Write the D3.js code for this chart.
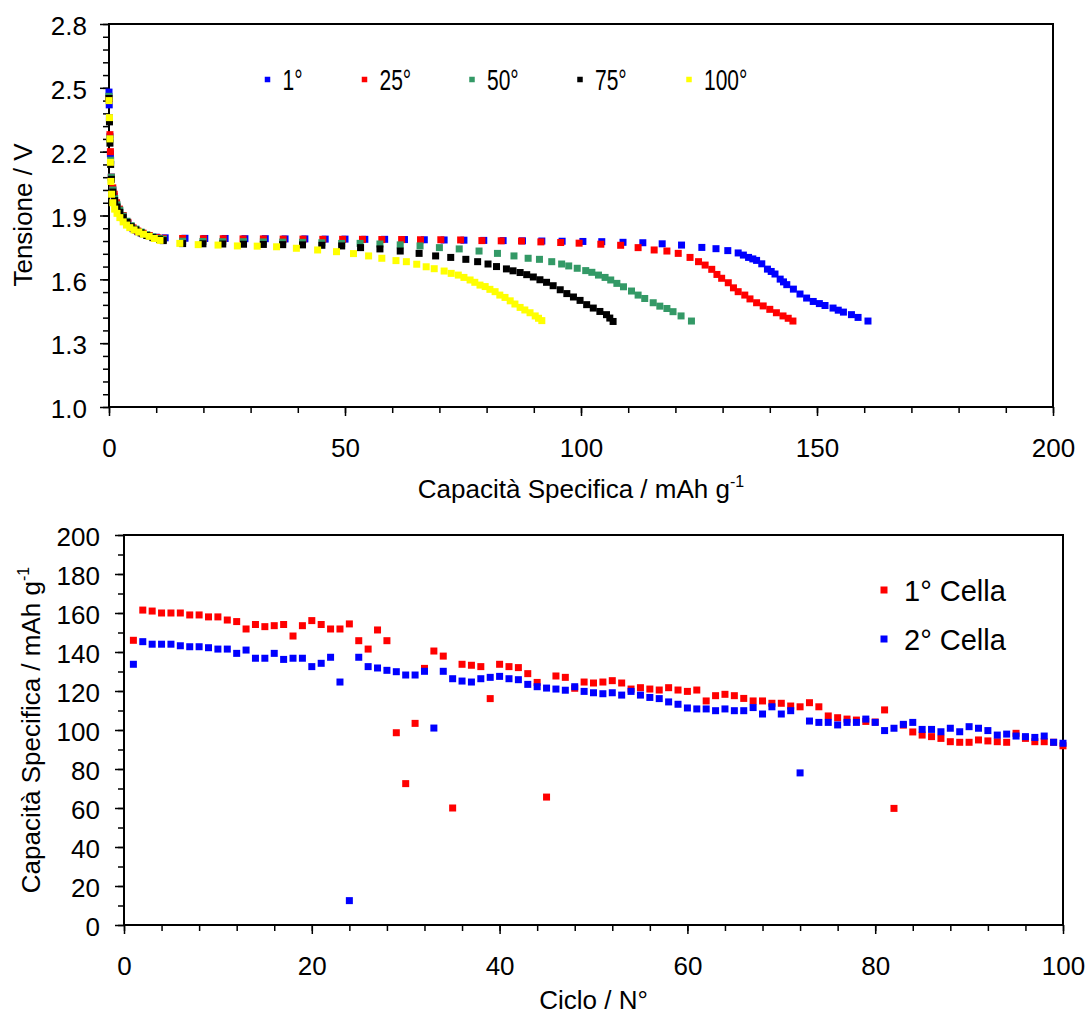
<!DOCTYPE html>
<html><head><meta charset="utf-8">
<script src="https://cdn.jsdelivr.net/npm/d3@7"></script>
<style>
html,body{margin:0;padding:0;background:#fff;}
svg{display:block;font-family:"Liberation Sans",Arial,sans-serif;}
</style></head>
<body>
<svg id="c" width="1089" height="1023"></svg>
<script>
// ---------- DATA: top chart (discharge curves) ----------
const seriesLabels = ["1°", "25°", "50°", "75°", "100°"];
const seriesColors = ["#0000FF", "#FF0000", "#339966", "#000000", "#FFFF00"];

const cap1 = [0,0.05,0.1,0.2,0.3,0.5,0.8,1.1,1.6,2.2,3.0,4.0,5.1,6.1,7.2,8.5,10.0,11.9,
  16.1,20.3,24.6,28.8,33.1,37.3,41.5,45.8,50.0,54.2,58.4,62.6,66.8,71.0,75.2,79.4,83.5,87.6,91.7,96.0,100.4,104.4,108.9,113.1,117.2,
  121.3,125.6,128.6,131.1,133.3,134.4,135.5,136.4,137.2,138.3,139.5,140.3,141.1,142.2,142.9,143.6,145.0,146.4,147.8,149.2,150.5,151.7,153.4,154.5,155.6,157.3,158.7,160.8];
const volt1 = [2.48,2.42,2.36,2.27,2.19,2.08,2.02,1.99,1.955,1.925,1.895,1.863,1.838,1.824,1.814,1.805,1.798,1.795,
  1.793,1.792,1.792,1.791,1.791,1.790,1.790,1.789,1.789,1.788,1.788,1.787,1.786,1.785,1.784,1.783,1.782,1.781,1.780,1.779,1.778,1.777,1.774,1.772,1.767,
  1.761,1.750,1.744,1.735,1.724,1.714,1.703,1.696,1.689,1.673,1.648,1.637,1.625,1.601,1.588,1.575,1.554,1.531,1.512,1.496,1.486,1.477,1.465,1.455,1.446,1.434,1.421,1.404];

const cap25 = [0,0.1,0.2,0.3,0.5,0.8,1.1,1.6,2.2,3.0,4.0,5.1,6.1,7.2,8.5,10.2,11.5,
  15.6,20.0,24.2,28.4,32.7,36.9,41.1,45.3,49.5,53.7,57.8,62.0,66.0,70.3,74.5,79.0,83.1,87.4,91.5,95.7,99.6,104.2,108.4,112.1,115.5,118.2,120.6,
  123.1,124.9,126.3,127.7,128.8,129.8,131.2,132.3,133.3,134.7,135.8,137.2,138.6,140.0,141.4,142.8,143.9,144.9];
const volt25 = [2.45,2.35,2.28,2.20,2.08,2.03,2.00,1.96,1.93,1.90,1.868,1.842,1.827,1.817,1.806,1.796,1.793,
  1.792,1.791,1.791,1.790,1.790,1.789,1.789,1.788,1.788,1.788,1.787,1.787,1.786,1.786,1.785,1.782,1.781,1.780,1.776,1.773,1.770,1.765,1.760,1.749,1.738,1.733,1.722,
  1.703,1.683,1.667,1.647,1.623,1.605,1.584,1.560,1.542,1.526,1.508,1.490,1.475,1.459,1.443,1.428,1.417,1.404];

const cap50 = [0,0.1,0.2,0.35,0.5,0.8,1.2,1.7,2.3,3.0,3.8,4.7,5.7,6.8,8.0,9.3,10.7,11.5,
  15.6,19.9,24.1,28.5,32.7,36.8,41.0,45.1,49.3,53.2,57.4,61.7,65.9,70.0,74.2,78.4,82.3,85.8,88.8,91.2,93.8,95.9,97.4,99.2,101.0,102.3,103.7,105.1,106.3,107.6,109.0,110.7,112.1,113.5,115.3,116.7,118.2,119.5,121.2,123.4];
const volt50 = [2.46,2.35,2.26,2.16,2.08,2.02,1.98,1.95,1.925,1.897,1.873,1.852,1.836,1.822,1.810,1.800,1.792,1.788,
  1.779,1.778,1.777,1.777,1.776,1.775,1.774,1.772,1.769,1.769,1.766,1.762,1.757,1.749,1.743,1.733,1.722,1.710,1.699,1.694,1.683,1.672,1.663,1.652,1.641,1.633,1.620,1.609,1.597,1.581,1.565,1.545,1.526,1.510,1.490,1.474,1.463,1.448,1.428,1.404];

const cap75 = [0,0.1,0.2,0.35,0.5,0.8,1.2,1.7,2.3,3.0,3.8,4.7,5.7,6.8,8.0,9.3,10.7,11.5,
  15.6,19.9,24.1,28.5,32.7,36.8,41.0,45.1,49.3,53.3,57.4,61.7,65.7,69.2,72.4,75.6,78.1,80.3,82.1,84.2,85.6,87.1,88.5,89.9,91.3,92.7,94.1,95.6,97.0,98.4,99.8,101.2,102.6,104.0,105.4,106.1,106.8];
const volt75 = [2.45,2.34,2.24,2.14,2.07,2.01,1.97,1.94,1.915,1.89,1.868,1.847,1.832,1.818,1.806,1.796,1.788,1.782,
  1.768,1.767,1.766,1.765,1.764,1.763,1.762,1.760,1.757,1.749,1.743,1.733,1.722,1.710,1.703,1.694,1.683,1.672,1.660,1.649,1.640,1.632,1.622,1.611,1.598,1.586,1.570,1.551,1.533,1.517,1.501,1.481,1.465,1.449,1.434,1.418,1.402];

const cap100 = [0,0.1,0.2,0.3,0.4,0.55,0.8,1.2,1.7,2.3,3.0,3.7,4.4,5.3,6.3,7.3,8.5,9.6,10.8,
  15.0,18.9,23.1,27.2,31.4,35.5,39.7,44.2,48.2,51.8,55.0,57.8,60.8,63.0,65.2,67.2,68.9,71.0,72.5,74.0,75.2,76.5,77.5,78.6,79.7,80.7,81.8,82.8,83.9,85.0,86.0,87.1,88.1,89.2,90.3,91.0,91.7];
const volt100 = [2.44,2.36,2.26,2.15,2.06,2.00,1.96,1.93,1.91,1.89,1.87,1.855,1.843,1.832,1.822,1.812,1.802,1.792,1.783,
  1.769,1.763,1.761,1.757,1.756,1.753,1.746,1.738,1.730,1.721,1.710,1.699,1.688,1.683,1.671,1.659,1.650,1.639,1.628,1.620,1.609,1.597,1.586,1.573,1.566,1.553,1.542,1.526,1.515,1.499,1.484,1.468,1.456,1.443,1.428,1.417,1.406];

const topCaps = [cap1, cap25, cap50, cap75, cap100];
const topVolts = [volt1, volt25, volt50, volt75, volt100];
const topXTicks = [0, 50, 100, 150, 200];
const topYTicks = [1.0, 1.3, 1.6, 1.9, 2.2, 2.5, 2.8];

// ---------- DATA: bottom chart (cycling) ----------
const cycles = [1,2,3,4,5,6,7,8,9,10,11,12,13,14,15,16,17,18,19,20,21,22,23,24,25,26,27,28,29,30,
  31,32,33,34,35,36,37,38,39,40,41,42,43,44,45,46,47,48,49,50,51,52,53,54,55,56,57,58,59,60,
  61,62,63,64,65,66,67,68,69,70,71,72,73,74,75,76,77,78,79,80,81,82,83,84,85,86,87,88,89,90,
  91,92,93,94,95,96,97,98,99,100];
const cell1 = [146,161.5,161,160,160,160,159,159,158,158,156.4,155.6,151.8,154.1,153,153.5,154.1,148.2,153.5,156.1,
  154.1,151.8,151.8,154.4,145.8,141.5,151.3,145.8,98.6,72.5,103.4,131.6,140.5,137.9,60,133.7,133.2,132.5,116.1,133.7,
  132.5,132,128.9,124.4,65.6,127.7,127,121.4,124.6,124.1,124.6,125.3,124.1,121,121.7,121,120.5,121.7,120.5,119.8,
  120.5,114.9,117.6,118.3,117.6,116.2,114.9,114.9,113.7,113.7,112.3,111.9,114,111.9,107.2,106.3,105.6,105.1,104.4,104.1,
  110.3,59.8,102.5,99,97.4,96.6,95.7,94,93.7,93.7,94.9,94.4,94,93.7,98.3,95.7,94,94,93.7,91.9];
const cell2 = [133.7,145.3,144,144,144,143.2,142.7,142.7,142.2,141.5,141.5,139.3,141,136.8,136.8,139.3,136.2,136.8,136.8,132.5,
  134.2,137.3,124.6,12.5,137.3,132.5,131.8,130.6,129.9,128.2,128.2,130.1,101,130.1,126.3,125.1,124.6,126.3,127,127.5,
  126.3,125.8,123.4,122.2,121.5,121,120.4,122.2,119.8,119.1,118.6,119.1,117.9,119.8,117.9,116.7,116.1,114.4,113.2,111.3,
  110.8,110.8,109.9,110.8,109.9,109.9,111.5,108.2,111.9,108.2,109.9,78,104.6,103.9,103.9,102.6,103.9,103.9,105.6,103.9,
  99.7,100.9,102.9,103.9,100.3,100.3,99.1,100.9,99.1,101.7,100.9,99.7,97.4,97.9,96.9,96.6,96.2,96.9,93.7,93.2];
const cellLabels = ["1° Cella", "2° Cella"];
const cellColors = ["#FF0000", "#0000FF"];
const botXTicks = [0, 20, 40, 60, 80, 100];
const botYTicks = [0,20,40,60,80,100,120,140,160,180,200];

// ---------- DRAW ----------
const svg = d3.select("#c");
const FONT = 26;

function styleAxis(g) {
  g.select(".domain").remove();
  g.selectAll(".tick line").attr("stroke", "#000").attr("stroke-width", 1.5);
  g.selectAll("text").attr("fill", "#000").style("font-size", FONT + "px");
}

function drawFrame(x, y) {
  const [x0, x1] = x.range(), [y0, y1] = y.range();
  svg.append("rect").attr("x", x0).attr("y", y1).attr("width", x1 - x0).attr("height", y0 - y1)
    .attr("fill", "none").attr("stroke", "#000").attr("stroke-width", 2);
}

function drawAxes(x, y, xMajor, xMinor, yMajor, yMinor, yFmt, yPad) {
  const y0 = y.range()[0], x0 = x.range()[0];
  // minor
  svg.append("g").attr("transform", `translate(0,${y0})`)
    .call(d3.axisBottom(x).tickValues(xMinor).tickSize(6).tickSizeOuter(0).tickFormat(""))
    .call(styleAxis);
  svg.append("g").attr("transform", `translate(${x0},0)`)
    .call(d3.axisLeft(y).tickValues(yMinor).tickSize(6).tickSizeOuter(0).tickFormat(""))
    .call(styleAxis);
  // major
  const gx = svg.append("g").attr("transform", `translate(0,${y0})`)
    .call(d3.axisBottom(x).tickValues(xMajor).tickSize(9).tickSizeOuter(0).tickFormat(d3.format("d")))
    .call(styleAxis);
  gx.selectAll("text").attr("dy", null).attr("y", 50);
  const gy = svg.append("g").attr("transform", `translate(${x0},0)`)
    .call(d3.axisLeft(y).tickValues(yMajor).tickSize(9).tickPadding(yPad).tickSizeOuter(0).tickFormat(yFmt))
    .call(styleAxis);
  gy.selectAll("text").attr("dy", "0.41em");
}

// ===== Top chart =====
const xT = d3.scaleLinear().domain([0, 200]).range([109, 1053]);
const yT = d3.scaleLinear().domain([1.0, 2.8]).range([407, 24]);
drawFrame(xT, yT);
drawAxes(xT, yT, topXTicks, d3.range(0, 201, 10), topYTicks, d3.range(1.0, 2.801, 0.06), d3.format(".1f"), 13);

const topMarks = svg.append("g");
topCaps.forEach((caps, i) => {
  const pts = caps.map((c, j) => [c, topVolts[i][j]]);
  topMarks.append("g").attr("fill", seriesColors[i])
    .selectAll("rect").data(pts).join("rect")
    .attr("x", d => xT(d[0]) - 3.5).attr("y", d => yT(d[1]) - 3.5)
    .attr("width", 7).attr("height", 7);
});

// top legend
const topLegX = [267.5, 364.5, 472, 580, 689];
seriesLabels.forEach((lab, i) => {
  svg.append("rect").attr("x", topLegX[i] - 2.75).attr("y", 79.5 - 2.75).attr("width", 5.5).attr("height", 5.5)
    .attr("fill", seriesColors[i]);
  svg.append("text").attr("transform", `translate(${topLegX[i] + 15},90) scale(0.7,1)`)
    .style("font-size", "30px").attr("fill", "#000").text(lab);
});

// top titles
svg.append("text").attr("x", 581).attr("y", 498).attr("text-anchor", "middle").style("font-size", FONT + "px")
  .call(t => { t.append("tspan").text("Capacità Specifica / mAh g"); t.append("tspan").attr("dy", -11).style("font-size", "16px").text("-1"); });
svg.append("text").attr("transform", "translate(32,215) rotate(-90)").attr("text-anchor", "middle")
  .style("font-size", FONT + "px").text("Tensione / V");

// ===== Bottom chart =====
const xB = d3.scaleLinear().domain([0, 100]).range([124, 1063]);
const yB = d3.scaleLinear().domain([0, 200]).range([925, 535]);
drawFrame(xB, yB);
drawAxes(xB, yB, botXTicks, d3.range(0, 101, 4), botYTicks, d3.range(0, 201, 10), d3.format("d"), 15);

[cell1, cell2].forEach((vals, i) => {
  svg.append("g").attr("fill", cellColors[i])
    .selectAll("rect").data(cycles.map((n, j) => [n, vals[j]])).join("rect")
    .attr("x", d => xB(d[0]) - 3.5).attr("y", d => yB(d[1]) - 3.5)
    .attr("width", 7).attr("height", 7);
});

// bottom legend
const botLegY = [590, 639];
cellLabels.forEach((lab, i) => {
  svg.append("rect").attr("x", 884 - 3.5).attr("y", botLegY[i] - 3.5).attr("width", 7).attr("height", 7).attr("fill", cellColors[i]);
  svg.append("text").attr("x", 904).attr("y", botLegY[i] + 11).style("font-size", "29px").attr("fill", "#000").text(lab);
});

// bottom titles
svg.append("text").attr("x", 593.5).attr("y", 1009).attr("text-anchor", "middle").style("font-size", FONT + "px").text("Ciclo / N°");
svg.append("text").attr("transform", "translate(40,730) rotate(-90)").attr("text-anchor", "middle").style("font-size", FONT + "px")
  .call(t => { t.append("tspan").text("Capacità Specifica / mAh g"); t.append("tspan").attr("dy", -11).style("font-size", "16px").text("-1"); });
</script>
</body></html>
